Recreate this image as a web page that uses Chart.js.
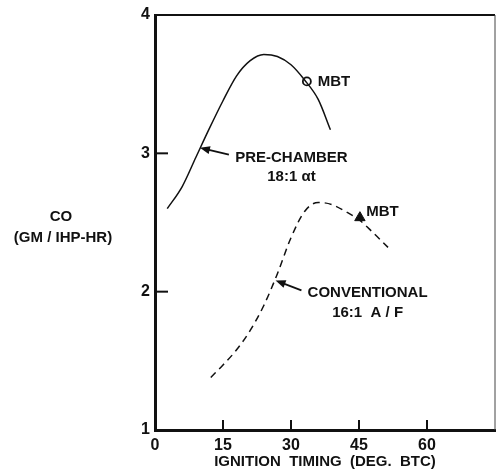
<!DOCTYPE html>
<html>
<head>
<meta charset="utf-8">
<script src="https://cdn.jsdelivr.net/npm/chart.js@4"></script>
<style>body{margin:0;background:#fff}</style>
</head>
<body>
<canvas id="co_chart" width="502" height="471"></canvas>
<script>
// values
const preChamberX = [2.7, 6, 9, 12, 15, 18, 21, 24, 27, 30, 33, 36, 38.7];
const preChamberY = [2.60, 2.76, 2.97, 3.18, 3.38, 3.56, 3.67, 3.715, 3.70, 3.64, 3.53, 3.39, 3.17];
const conventionalX = [12.3, 15, 18, 21, 24, 27, 30, 33, 36, 39, 42, 45, 48, 51.4];
const conventionalY = [1.38, 1.47, 1.58, 1.72, 1.90, 2.13, 2.39, 2.58, 2.645, 2.63, 2.58, 2.52, 2.43, 2.32];
const mbtPreChamber = [33.5, 3.52];
const mbtConventional = [45.2, 2.535];
const xTickLabels = [0, 15, 30, 45, 60];
const yTickLabels = [1, 2, 3, 4];

const ink = '#111';
const labelFont = 'bold 15px "Liberation Sans", Arial, sans-serif';

function toPoints(xs, ys) {
    return xs.map((x, i) => ({ x: x, y: ys[i] }));
}

// text notes in data units
const notes = [
    { text: 'PRE-CHAMBER', x: 30.1, y: 2.97, align: 'center' },
    { text: '18:1 \u03b1t', x: 30.1, y: 2.83, align: 'center' },
    { text: 'MBT', x: 35.9, y: 3.52, align: 'left' },
    { text: 'MBT', x: 46.6, y: 2.58, align: 'left' },
    { text: 'CONVENTIONAL', x: 46.9, y: 1.99, align: 'center' },
    { text: '16:1  A / F', x: 46.9, y: 1.85, align: 'center' }
];
const arrows = [
    { from: [16.3, 2.99], to: [9.9, 3.04] },
    { from: [32.3, 2.01], to: [26.6, 2.08] }
];

const decorPlugin = {
    id: 'decor',
    afterDraw(chart) {
        const ctx = chart.ctx;
        const area = chart.chartArea;
        const xs = chart.scales.x, ys = chart.scales.y;
        const px = v => xs.getPixelForValue(v);
        const py = v => ys.getPixelForValue(v);
        ctx.save();
        ctx.strokeStyle = ink;
        ctx.fillStyle = ink;

        // frame top and right
        ctx.lineWidth = 2;
        ctx.beginPath();
        ctx.moveTo(area.left, area.top);
        ctx.lineTo(area.right, area.top);
        ctx.stroke();
        ctx.lineWidth = 1;
        ctx.strokeStyle = '#444';
        ctx.beginPath();
        ctx.moveTo(area.right, area.top);
        ctx.lineTo(area.right, area.bottom);
        ctx.stroke();

        // inward tick marks
        ctx.strokeStyle = ink;
        ctx.lineWidth = 2;
        xTickLabels.slice(1).forEach(v => {
            ctx.beginPath();
            ctx.moveTo(px(v), area.bottom);
            ctx.lineTo(px(v), area.bottom - 10);
            ctx.stroke();
        });
        yTickLabels.slice(1, -1).forEach(v => {
            ctx.beginPath();
            ctx.moveTo(area.left, py(v));
            ctx.lineTo(area.left + 13, py(v));
            ctx.stroke();
        });

        // notes
        ctx.font = labelFont;
        ctx.textBaseline = 'middle';
        notes.forEach(n => {
            ctx.textAlign = n.align;
            ctx.fillText(n.text, px(n.x), py(n.y));
        });

        // arrows
        ctx.lineWidth = 1.8;
        arrows.forEach(a => {
            const x1 = px(a.from[0]), y1 = py(a.from[1]);
            const x2 = px(a.to[0]), y2 = py(a.to[1]);
            const ang = Math.atan2(y2 - y1, x2 - x1);
            ctx.beginPath();
            ctx.moveTo(x1, y1);
            ctx.lineTo(x2 - 6 * Math.cos(ang), y2 - 6 * Math.sin(ang));
            ctx.stroke();
            ctx.beginPath();
            ctx.moveTo(x2, y2);
            ctx.lineTo(x2 - 10 * Math.cos(ang) + 4 * Math.sin(ang), y2 - 10 * Math.sin(ang) - 4 * Math.cos(ang));
            ctx.lineTo(x2 - 10 * Math.cos(ang) - 4 * Math.sin(ang), y2 - 10 * Math.sin(ang) + 4 * Math.cos(ang));
            ctx.closePath();
            ctx.fill();
        });

        // y axis title, horizontal
        ctx.textAlign = 'center';
        ctx.fillText('CO', 61, 217);
        ctx.fillText('(GM / IHP-HR)', 63, 238);
        ctx.restore();
    }
};

const ctx = document.getElementById('co_chart').getContext('2d');
new Chart(ctx, {
    type: 'scatter',
    data: {
        datasets: [{
            data: toPoints(preChamberX, preChamberY),
            showLine: true,
            borderColor: ink,
            borderWidth: 1.5,
            pointRadius: 0,
            cubicInterpolationMode: 'monotone'
        }, {
            data: toPoints(conventionalX, conventionalY),
            showLine: true,
            borderColor: ink,
            borderWidth: 1.5,
            borderDash: [7, 5],
            pointRadius: 0,
            cubicInterpolationMode: 'monotone'
        }, {
            data: [{ x: mbtPreChamber[0], y: mbtPreChamber[1] }],
            pointStyle: 'circle',
            pointRadius: 4,
            borderWidth: 1.8,
            borderColor: ink,
            backgroundColor: '#fff'
        }, {
            data: [{ x: mbtConventional[0], y: mbtConventional[1] }],
            pointStyle: 'triangle',
            pointRadius: 6,
            borderWidth: 1,
            borderColor: ink,
            backgroundColor: ink
        }]
    },
    options: {
        responsive: false,
        animation: false,
        layout: { padding: { top: 15, right: 2, left: 0, bottom: 0 } },
        plugins: {
            legend: { display: false },
            tooltip: { enabled: false }
        },
        scales: {
            x: {
                type: 'linear',
                min: 0,
                max: 75,
                afterFit: scale => { scale.height = 41; },
                grid: { display: false, drawTicks: false },
                border: { display: true, width: 3, color: ink },
                ticks: {
                    stepSize: 15,
                    padding: 6,
                    color: ink,
                    font: { family: '"Liberation Sans", Arial, sans-serif', size: 16, weight: 'bold' },
                    callback: v => xTickLabels.includes(v) ? String(v) : ''
                },
                title: {
                    display: true,
                    text: 'IGNITION  TIMING  (DEG.  BTC)',
                    color: ink,
                    padding: 0,
                    font: { family: '"Liberation Sans", Arial, sans-serif', size: 15, weight: 'bold' }
                }
            },
            y: {
                min: 1,
                max: 4,
                afterFit: scale => { scale.width = 155; },
                grid: { display: false, drawTicks: false },
                border: { display: true, width: 3, color: ink },
                ticks: {
                    stepSize: 1,
                    padding: 5,
                    color: ink,
                    font: { family: '"Liberation Sans", Arial, sans-serif', size: 16, weight: 'bold' },
                    callback: v => yTickLabels.includes(v) ? String(v) : ''
                }
            }
        }
    },
    plugins: [decorPlugin]
});
</script>
</body>
</html>
